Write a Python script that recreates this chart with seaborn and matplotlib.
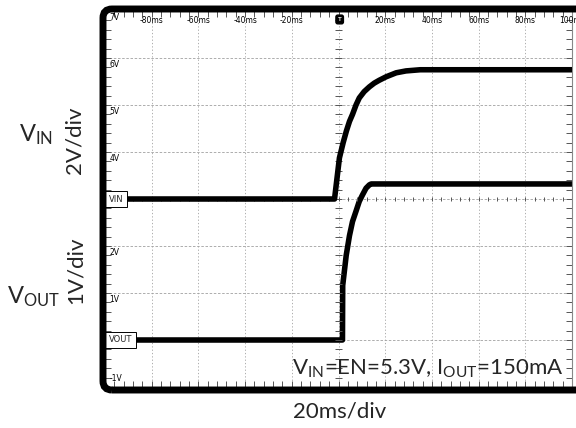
import numpy as np
import pandas as pd
import seaborn as sns
import matplotlib
matplotlib.use("Agg")
import matplotlib.pyplot as plt
from matplotlib.patches import FancyBboxPatch
from matplotlib.ticker import MultipleLocator

# scope traces (time in ms, volts)
vin_t = [-100, -1.7, 0.4, 2.0, 3.4, 4.7, 6.0, 7.5, 8.9, 11.0, 13.2, 15.3, 17.4, 20.4, 24.7, 28.9, 35, 100]
vin_v = [0, 0, 1.75, 2.4, 2.9, 3.3, 3.6, 4.0, 4.3, 4.57, 4.77, 4.93, 5.05, 5.2, 5.37, 5.45, 5.5, 5.5]
vout_t = [-100, 1.7, 1.8, 3.3, 4.7, 6.0, 7.5, 8.9, 10.2, 11.8, 13.2, 14, 100]
vout_v = [0, 0, 1.16, 1.80, 2.22, 2.52, 2.74, 2.95, 3.08, 3.23, 3.30, 3.32, 3.32]

# screen labels of the scope
y_tick_vals = [7, 6, 5, 4, 2, 1]
y_tick_labels = ["7V", "6V", "5V", "4V", "2V", "1V"]
bottom_label = "-1V"
x_tick_vals = [-80, -60, -40, -20, 20, 40, 60, 80, 100]
x_tick_labels = ["-80ms", "-60ms", "-40ms", "-20ms", "20ms", "40ms", "60ms", "80ms", "100ms"]

vin = pd.DataFrame({"t": vin_t, "v": vin_v})
vout = pd.DataFrame({"t": vout_t, "v": vout_v})

sns.set_style("white")
plt.rcParams["font.family"] = ["Lato", "DejaVu Sans"]
plt.rcParams["mathtext.default"] = "regular"

fig = plt.figure(figsize=(5.76, 4.28), dpi=100)
ax = fig.add_axes([105 / 576, 1 - 387 / 428, 467 / 576, 376 / 428])
ax2 = ax.twinx()

# VOUT on 1V/div (0V at div 1), VIN on 2V/div (0V at div 4)
ax.set_xlim(-100, 100)
ax.set_ylim(-1, 7)
ax2.set_ylim(-8, 8)

sns.lineplot(data=vout, x="t", y="v", ax=ax, color="black", lw=4, estimator=None, sort=False)
sns.lineplot(data=vin, x="t", y="v", ax=ax2, color="black", lw=4, estimator=None, sort=False)

# graticule
ax.grid(False)
ax2.grid(False)
for gx in np.arange(-80, 100, 20):
    ax.axvline(gx, color="#a0a0a0", linestyle=(0, (1.5, 2.5)), lw=0.6, zorder=0)
for gy in np.arange(0, 7, 1):
    ax.axhline(gy, color="#a0a0a0", linestyle=(0, (3, 2)), lw=0.6, zorder=0)
ax.set_xticks(np.arange(-100, 101, 20))
ax.set_yticks(np.arange(-1, 8, 1))
ax.xaxis.set_minor_locator(MultipleLocator(4))
ax.yaxis.set_minor_locator(MultipleLocator(0.2))
ax.tick_params(which="both", direction="in", top=True, right=True, bottom=True, left=True,
               labelbottom=False, labelleft=False, length=4, width=0.7, color="#555555")
ax.set_xlabel("")
ax.set_ylabel("")
ax2.set_yticks([])
ax2.set_ylabel("")
ax2.tick_params(right=False)

# center cross minor ticks
ax.vlines(np.arange(-100, 101, 4), 2.95, 3.05, color="#555555", lw=0.7)
ax.hlines(np.arange(-1, 7.01, 0.2), -1.5, 1.5, color="#555555", lw=0.7)

for sp in ["left", "top", "bottom"]:
    ax.spines[sp].set_visible(False)
    ax2.spines[sp].set_visible(False)
ax.spines["right"].set_color("#888888")
ax.spines["right"].set_linewidth(0.8)
ax2.spines["right"].set_visible(False)

small = dict(family="DejaVu Sans", fontsize=5.5, color="black")
for v, lab in zip(y_tick_vals, y_tick_labels):
    ax.text(-98.2, v - 0.04, lab, ha="left", va="top", **small)
ax.text(-98.2, -0.92, bottom_label, ha="left", va="bottom", **small)
for t, lab in zip(x_tick_vals, x_tick_labels):
    ax.text(t, 6.9, lab, ha="center", va="top", clip_on=False, **small)

# trigger and channel markers (drawn above both traces)
ax2.text(0.5, 6.82, "T", transform=ax.transData, ha="center", va="center", color="white",
         fontsize=4.5, fontweight="bold", zorder=10,
         bbox=dict(boxstyle="round,pad=0.3", fc="black", ec="black"))
ax2.text(-98.3, 3, "VIN", transform=ax.transData, ha="left", va="center", zorder=10,
         family="DejaVu Sans", fontsize=6,
         bbox=dict(boxstyle="square,pad=0.45", fc="white", ec="black", lw=0.7))
ax2.text(-98.3, 0, "VOUT", transform=ax.transData, ha="left", va="center", zorder=10,
         family="DejaVu Sans", fontsize=6,
         bbox=dict(boxstyle="square,pad=0.45", fc="white", ec="black", lw=0.7))

ax2.text(96.5, -0.62, r"V$_{IN}$=EN=5.3V, I$_{OUT}$=150mA", transform=ax.transData,
         ha="right", va="center", fontsize=16, zorder=10)

# thick rounded screen border
frame = FancyBboxPatch((1.03, 0.38), 4.9, 3.81, boxstyle="round,pad=0,rounding_size=0.09",
                       transform=fig.dpi_scale_trans, fill=False, ec="black", lw=5, zorder=5)
fig.add_artist(frame)

fig.text(36 / 576, 1 - 135 / 428, r"V$_{IN}$", ha="center", va="center", fontsize=17)
fig.text(75 / 576, 1 - 140 / 428, "2V/div", ha="center", va="center", rotation=90, fontsize=16)
fig.text(34 / 576, 1 - 297 / 428, r"V$_{OUT}$", ha="center", va="center", fontsize=17)
fig.text(76 / 576, 1 - 270 / 428, "1V/div", ha="center", va="center", rotation=90, fontsize=16)
fig.text(340 / 576, 1 - 412 / 428, "20ms/div", ha="center", va="center", fontsize=16)

fig.savefig("out.png", dpi=100)
